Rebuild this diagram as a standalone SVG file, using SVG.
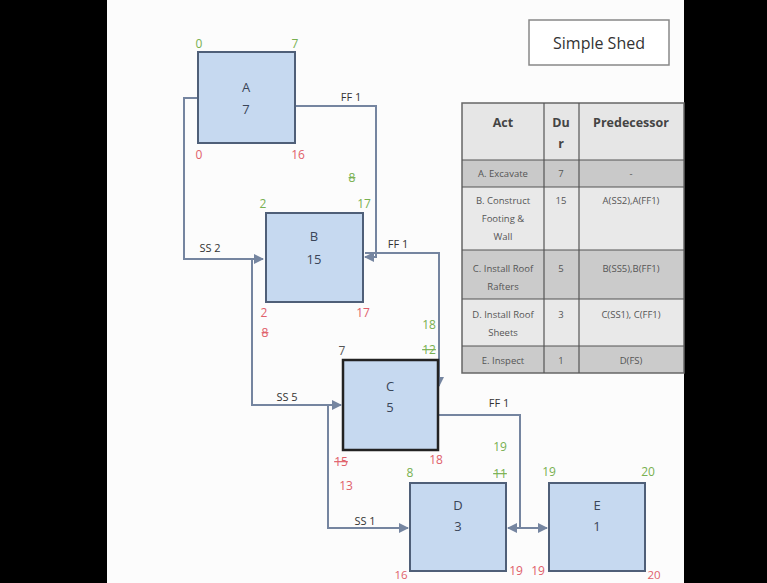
<svg xmlns="http://www.w3.org/2000/svg" width="767" height="583" viewBox="0 0 767 583">
<style>
text{font-family:"Open Sans","Liberation Sans",sans-serif;text-anchor:middle}
.node{fill:#c6d9f0;stroke:#4f5f78;stroke-width:2}
.nodeC{fill:#c6d9f0;stroke:#222;stroke-width:2.5}
.nl{font-size:13px;fill:#3a4558}
.g{font-size:12px;fill:#78b050}
.r{font-size:12px;fill:#e0606a}
.k{font-size:12px;fill:#555}
.s{text-decoration:line-through}
.c{fill:none;stroke:#7585a0;stroke-width:2}
.cl{font-size:11px;fill:#333}
.th{font-size:12.5px;font-weight:bold;fill:#444}
.td{font-size:9.5px;fill:#555}
.tl{stroke:#555;stroke-width:1.2}
</style>
<defs>
<marker id="ah" viewBox="0 0 10 10" refX="9" refY="5" markerWidth="5" markerHeight="5" orient="auto">
<path d="M0,0 L10,5 L0,10 z" fill="#7585a0"/>
</marker>
</defs>
<rect x="0" y="0" width="767" height="583" fill="#000"/>
<rect x="107" y="0" width="577" height="583" fill="#fcfcfc"/>

<g id="title">
<rect x="529" y="20" width="140" height="45" fill="#fff" stroke="#888" stroke-width="1.5"/>
<text x="599" y="49" style="font-size:16px;fill:#333">Simple Shed</text>
</g>

<g id="connectors">
<path class="c" d="M198,98 H184 V259 H263" marker-end="url(#ah)"/>
<path class="c" d="M295,106 H376 V257 H365" marker-end="url(#ah)"/>
<path class="c" d="M365,253 H439 V386" marker-end="url(#ah)"/>
<path class="c" d="M252,259 V405 H341" marker-end="url(#ah)"/>
<path class="c" d="M328,405 V528 H408" marker-end="url(#ah)"/>
<path class="c" d="M438,415 H520 V528 H508" marker-end="url(#ah)"/>
<path class="c" d="M520,528 H547" marker-end="url(#ah)"/>
<text class="cl" x="210" y="252">SS 2</text>
<text class="cl" x="351" y="101">FF 1</text>
<text class="cl" x="398" y="248">FF 1</text>
<text class="cl" x="287" y="401">SS 5</text>
<text class="cl" x="365" y="525">SS 1</text>
<text class="cl" x="499" y="407">FF 1</text>
</g>

<g id="A">
<rect class="node" x="198" y="52" width="97" height="91"/>
<text class="nl" x="246" y="92">A</text>
<text class="nl" x="246" y="114">7</text>
<text class="g" x="199" y="48">0</text>
<text class="g" x="295" y="48">7</text>
<text class="r" x="199" y="159">0</text>
<text class="r" x="298" y="159">16</text>
</g>

<g id="B">
<rect class="node" x="266" y="213" width="97" height="89"/>
<text class="nl" x="314" y="241">B</text>
<text class="nl" x="314" y="264">15</text>
<text class="g" x="263" y="208">2</text>
<text class="g" x="364" y="208">17</text>
<text class="g s" x="352" y="182">8</text>
<text class="r" x="264" y="317">2</text>
<text class="r s" x="265" y="337">8</text>
<text class="r" x="363" y="317">17</text>
</g>

<g id="C">
<rect class="nodeC" x="343" y="360" width="95" height="90"/>
<text class="nl" x="390" y="391">C</text>
<text class="nl" x="390" y="412">5</text>
<text class="k" x="342" y="355">7</text>
<text class="g" x="429" y="329">18</text>
<text class="g s" x="429" y="354">12</text>
<text class="r s" x="341" y="466">15</text>
<text class="r" x="346" y="490">13</text>
<text class="r" x="436" y="464">18</text>
</g>

<g id="D">
<rect class="node" x="410" y="483" width="96" height="88"/>
<text class="nl" x="458" y="510">D</text>
<text class="nl" x="458" y="531">3</text>
<text class="g" x="410" y="477">8</text>
<text class="g" x="500" y="451">19</text>
<text class="g s" x="500" y="478">11</text>
<text class="r" x="401" y="579" style="font-size:11.5px">16</text>
<text class="r" x="516" y="575">19</text>
</g>

<g id="E">
<rect class="node" x="549" y="483" width="96" height="88"/>
<text class="nl" x="597" y="510">E</text>
<text class="nl" x="597" y="531">1</text>
<text class="g" x="549" y="476">19</text>
<text class="g" x="648" y="476">20</text>
<text class="r" x="538" y="575">19</text>
<text class="r" x="654" y="579" style="font-size:11.5px">20</text>
</g>

<g id="table">
<rect x="462" y="103" width="222" height="57" fill="#e6e6e6"/>
<rect x="462" y="160" width="222" height="27" fill="#c9c9c9"/>
<rect x="462" y="187" width="222" height="63" fill="#e9e9e9"/>
<rect x="462" y="250" width="222" height="49" fill="#cbcbcb"/>
<rect x="462" y="299" width="222" height="47" fill="#e9e9e9"/>
<rect x="462" y="346" width="222" height="27" fill="#cbcbcb"/>
<rect x="462" y="103" width="222" height="270" fill="none" stroke="#666" stroke-width="1.5"/>
<line class="tl" x1="544" y1="103" x2="544" y2="373"/>
<line class="tl" x1="579" y1="103" x2="579" y2="373"/>
<line class="tl" x1="462" y1="160" x2="684" y2="160"/>
<line class="tl" x1="462" y1="187" x2="684" y2="187"/>
<line class="tl" x1="462" y1="250" x2="684" y2="250"/>
<line class="tl" x1="462" y1="299" x2="684" y2="299"/>
<line class="tl" x1="462" y1="346" x2="684" y2="346"/>
<text class="th" x="503" y="127">Act</text>
<text class="th" x="561" y="127">Du</text>
<text class="th" x="561" y="148">r</text>
<text class="th" x="631" y="127">Predecessor</text>
<text class="td" x="503" y="177">A. Excavate</text>
<text class="td" x="561" y="177">7</text>
<text class="td" x="631" y="177">-</text>
<text class="td" x="503" y="204">B. Construct</text>
<text class="td" x="503" y="222">Footing &amp;</text>
<text class="td" x="503" y="240">Wall</text>
<text class="td" x="561" y="204">15</text>
<text class="td" x="631" y="204">A(SS2),A(FF1)</text>
<text class="td" x="503" y="272">C. Install Roof</text>
<text class="td" x="503" y="290">Rafters</text>
<text class="td" x="561" y="272">5</text>
<text class="td" x="631" y="272">B(SS5),B(FF1)</text>
<text class="td" x="503" y="318">D. Install Roof</text>
<text class="td" x="503" y="336">Sheets</text>
<text class="td" x="561" y="318">3</text>
<text class="td" x="631" y="318">C(SS1), C(FF1)</text>
<text class="td" x="503" y="364">E. Inspect</text>
<text class="td" x="561" y="364">1</text>
<text class="td" x="631" y="364">D(FS)</text>
</g>
</svg>
